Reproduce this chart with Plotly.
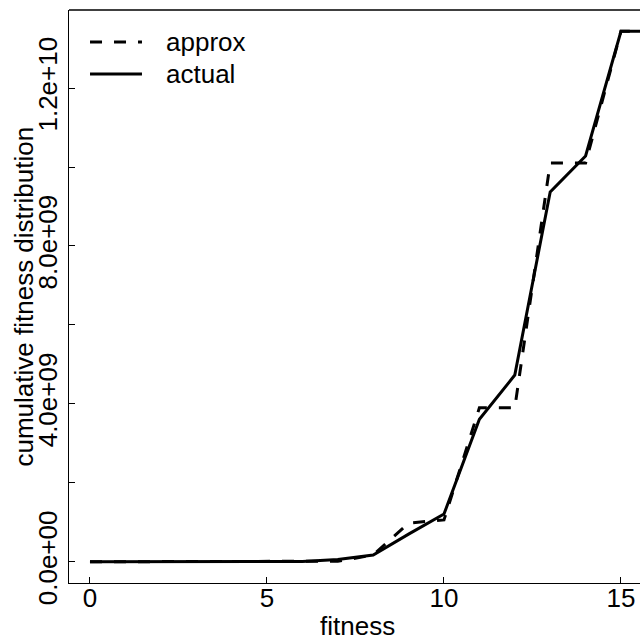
import plotly.graph_objects as go

fitness = list(range(0, 17))
actual = [0, 0, 0, 0, 0, 0, 1.0e7, 6.0e7, 1.7e8, 7.0e8, 1.21e9, 3.61e9, 4.73e9,
          9.37e9, 1.028e10, 1.344e10, 1.344e10]
approx = [0, 0, 0, 0, 0, 0, 0, 1.5e7, 1.7e8, 9.8e8, 1.06e9, 3.9e9, 3.9e9,
          1.01e10, 1.01e10, 1.344e10, 1.344e10]

y_tickvals = [0, 2e9, 4e9, 6e9, 8e9, 1.0e10, 1.2e10]
y_ticktext = ["0.0e+00", "", "4.0e+09", "", "8.0e+09", "", "1.2e+10"]
x_tickvals = [0, 5, 10, 15]

legend_labels = ["approx", "actual"]

FONT = "Liberation Sans, Arial, Helvetica, sans-serif"
FS = 26

fig = go.Figure()
fig.add_trace(go.Scatter(x=fitness, y=approx, mode="lines", name="approx",
                         line=dict(color="black", width=3, dash="12px,12px"),
                         showlegend=False))
fig.add_trace(go.Scatter(x=fitness, y=actual, mode="lines", name="actual",
                         line=dict(color="black", width=3),
                         showlegend=False))

ymax = max(max(actual), max(approx))
pad = 0.04 * ymax

fig.update_layout(
    width=640, height=641,
    margin=dict(l=69, r=0, t=10, b=58),
    paper_bgcolor="white", plot_bgcolor="white",
    font=dict(family=FONT, size=FS, color="black"),
    xaxis=dict(range=[-0.593, 15.537], tickvals=x_tickvals,
               ticks="inside", ticklen=6, tickwidth=1.3, tickcolor="black",
               ticklabelstandoff=-8,
               showline=True, linecolor="black", linewidth=1.3,
               showgrid=False, zeroline=False, tickfont=dict(size=FS)),
    yaxis=dict(range=[-pad, ymax + pad], tickvals=y_tickvals, ticktext=y_ticktext,
               tickangle=-90,
               ticks="inside", ticklen=6, tickwidth=1.3, tickcolor="black",
               showline=True, linecolor="black", linewidth=1.3,
               showgrid=False, zeroline=False, tickfont=dict(size=FS)),
    showlegend=False,
)

# top frame line
fig.add_shape(type="line", xref="paper", yref="paper", x0=0, x1=1, y0=1, y1=1,
              line=dict(color="black", width=1.3))

# legend (no box)
leg_y = [0.9442, 0.8883]
leg_dash = ["12px,12px", "solid"]
for lbl, yy, dsh in zip(legend_labels, leg_y, leg_dash):
    fig.add_shape(type="line", xref="paper", yref="paper", x0=0.0368, x1=0.1278,
                  y0=yy, y1=yy, line=dict(color="black", width=3, dash=dsh))
    fig.add_annotation(xref="paper", yref="paper", x=0.1664, y=yy, text=lbl,
                       showarrow=False, xanchor="left", yanchor="middle",
                       font=dict(size=FS))

# axis titles
fig.add_annotation(xref="paper", yref="paper", x=0, y=0.5, xshift=-46,
                   text="cumulative fitness distribution", textangle=-90,
                   showarrow=False, xanchor="center", yanchor="middle",
                   font=dict(size=FS))
fig.add_annotation(xref="paper", yref="paper", x=(357 - 69) / 571, y=0, yshift=-43,
                   text="fitness", showarrow=False, xanchor="center", yanchor="middle",
                   font=dict(size=FS))

fig.write_html("out.html")
